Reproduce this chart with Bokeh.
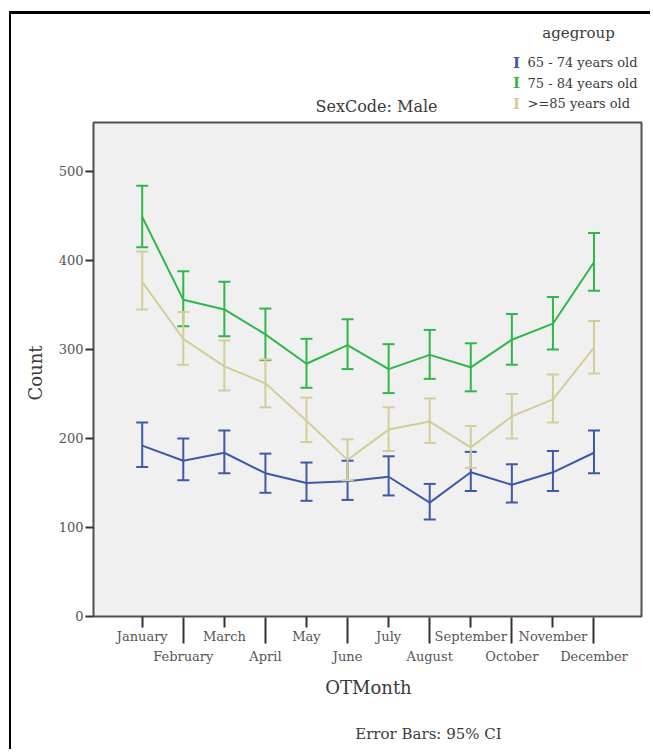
from bokeh.plotting import figure
from bokeh.models import (ColumnDataSource, Whisker, TeeHead, Range1d, FixedTicker, Label,
                          LinearAxis, BoxAnnotation, Title)
from bokeh.embed import file_html
from bokeh.resources import INLINE

months = ["January", "February", "March", "April", "May", "June", "July",
          "August", "September", "October", "November", "December"]
month_num = list(range(1, 13))

series_names = ["65 - 74 years old", "75 - 84 years old", ">=85 years old"]
colors = ["#3E58AC", "#2EB848", "#D3CE97"]

blue_mean = [192, 175, 184, 161, 150, 152, 157, 128, 162, 148, 162, 184]
blue_lo = [168, 153, 161, 139, 130, 131, 136, 109, 141, 128, 141, 161]
blue_hi = [218, 200, 209, 183, 173, 175, 180, 149, 185, 171, 186, 209]

green_mean = [449, 356, 345, 317, 284, 305, 278, 294, 280, 311, 329, 398]
green_lo = [415, 326, 315, 288, 257, 278, 251, 267, 253, 283, 300, 366]
green_hi = [484, 388, 376, 346, 312, 334, 306, 322, 307, 340, 359, 431]

tan_mean = [376, 312, 281, 262, 220, 176, 210, 219, 190, 225, 244, 302]
tan_lo = [345, 283, 254, 235, 196, 153, 186, 195, 167, 200, 218, 273]
tan_hi = [410, 342, 310, 289, 246, 199, 235, 245, 214, 250, 272, 332]

y_ticks = [0, 100, 200, 300, 400, 500]
note_text = "Error Bars: 95% CI"

# plot-area extent (data units) and the outer canvas range
area_x = (-0.186, 13.157)
area_y = (0, 555)
view_x = (-0.2345, 13.254)
view_y = (-2.25, 676.4)
note_pos = 7.97

FONT = "DejaVu Serif"
TXT = "#3a3a3a"
TICKTXT = "#555555"

p = figure(width=641, height=738, output_backend="svg", toolbar_location=None,
           title=None,
           x_range=Range1d(*view_x), y_range=Range1d(*view_y),
           min_border_left=80, min_border_right=7, min_border_top=0,
           min_border_bottom=134,
           x_axis_type=None, y_axis_type=None,
           styles={"border-top": "3px solid black", "border-left": "2px solid black",
                   "margin-top": "11px", "margin-left": "9px"})
p.background_fill_color = "white"
p.border_fill_color = "white"
p.outline_line_color = None
p.grid.visible = False

# plot area box
p.add_layout(BoxAnnotation(left=area_x[0], right=area_x[1], bottom=area_y[0], top=area_y[1],
                           fill_color="#f0f0f0", fill_alpha=1.0,
                           line_color="#505050", line_alpha=1.0, line_width=2,
                           level="underlay"))

# y axis
yax = LinearAxis(ticker=FixedTicker(ticks=y_ticks))
yax.minor_tick_line_color = None
yax.major_tick_out = 6
yax.major_tick_in = 2
yax.major_tick_line_width = 2
yax.major_tick_line_color = "#333333"
yax.axis_line_color = None
yax.major_label_text_font = FONT
yax.major_label_text_font_size = "13px"
yax.major_label_text_color = TICKTXT
yax.major_label_standoff = 2
p.add_layout(yax, "left")

p.add_layout(Title(text="Count", align="left", offset=218, text_font=FONT,
                   text_font_size="18px", text_font_style="normal",
                   text_color=TXT, standoff=19), "left")

# x axes: odd months (short ticks) on the first row, even months (long ticks) on the second
even = [m for m in month_num if m % 2 == 0]
odd = [m for m in month_num if m % 2 == 1]

xa = LinearAxis(ticker=FixedTicker(ticks=odd))
xa.major_label_overrides = {m: months[m - 1] for m in odd}
xa.major_tick_out = 9
xa.major_tick_in = 2
xa.major_tick_line_width = 2
xa.major_tick_line_color = "#333333"
xa.minor_tick_line_color = None
xa.axis_line_color = None
xa.major_label_text_font = FONT
xa.major_label_text_font_size = "13px"
xa.major_label_text_color = TICKTXT
xa.major_label_standoff = 1
p.add_layout(xa, "below")

xb = LinearAxis(ticker=FixedTicker(ticks=even))
xb.major_label_overrides = {m: months[m - 1] for m in even}
xb.major_tick_out = -3
xb.major_tick_in = 29
xb.major_tick_line_width = 2
xb.major_tick_line_color = "#333333"
xb.minor_tick_line_color = None
xb.axis_line_color = None
xb.major_label_text_font = FONT
xb.major_label_text_font_size = "13px"
xb.major_label_text_color = TICKTXT
xb.major_label_standoff = 2
xb.axis_label = "OTMonth"
xb.axis_label_text_font = FONT
xb.axis_label_text_font_size = "18px"
xb.axis_label_text_font_style = "normal"
xb.axis_label_text_color = TXT
xb.axis_label_standoff = 10
p.add_layout(xb, "below")

# footnote row
xc = LinearAxis(ticker=FixedTicker(ticks=[note_pos]))
xc.major_label_overrides = {note_pos: note_text}
xc.major_tick_out = 0
xc.major_tick_in = 0
xc.major_tick_line_color = None
xc.minor_tick_line_color = None
xc.axis_line_color = None
xc.major_label_text_font = FONT
xc.major_label_text_font_size = "15px"
xc.major_label_text_color = TXT
xc.major_label_standoff = 24
p.add_layout(xc, "below")

series = [(blue_mean, blue_lo, blue_hi), (green_mean, green_lo, green_hi),
          (tan_mean, tan_lo, tan_hi)]
for (mean, lo, hi), col, name in zip(series, colors, series_names):
    src = ColumnDataSource(dict(x=month_num, mean=mean, lower=lo, upper=hi))
    w = Whisker(base="x", lower="lower", upper="upper", source=src,
                line_color=col, line_width=2,
                upper_head=TeeHead(size=12, line_color=col, line_width=2),
                lower_head=TeeHead(size=12, line_color=col, line_width=2),
                level="glyph")
    p.add_layout(w)
    p.line("x", "mean", source=src, line_color=col, line_width=2)

# panel title
p.add_layout(Label(x=285, y=512, x_units="screen", y_units="screen", text="SexCode: Male",
                   text_font=FONT, text_font_size="16px", text_color=TXT,
                   text_align="center", text_baseline="middle"))

# legend
p.add_layout(Label(x=487, y=586, x_units="screen", y_units="screen", text="agegroup",
                   text_font=FONT, text_font_size="15px", text_color=TXT,
                   text_align="center", text_baseline="middle"))
for i, (name, col) in enumerate(zip(series_names, colors)):
    yy = 556 - i * 20.5
    p.add_layout(Label(x=425, y=yy, x_units="screen", y_units="screen", text="I",
                       text_font=FONT, text_font_size="15px", text_font_style="bold",
                       text_color=col, text_align="center", text_baseline="middle"))
    p.add_layout(Label(x=436, y=yy, x_units="screen", y_units="screen", text=name,
                       text_font=FONT, text_font_size="13px", text_color=TXT,
                       text_align="left", text_baseline="middle"))

open("out.html", "w").write(file_html(p, INLINE))
